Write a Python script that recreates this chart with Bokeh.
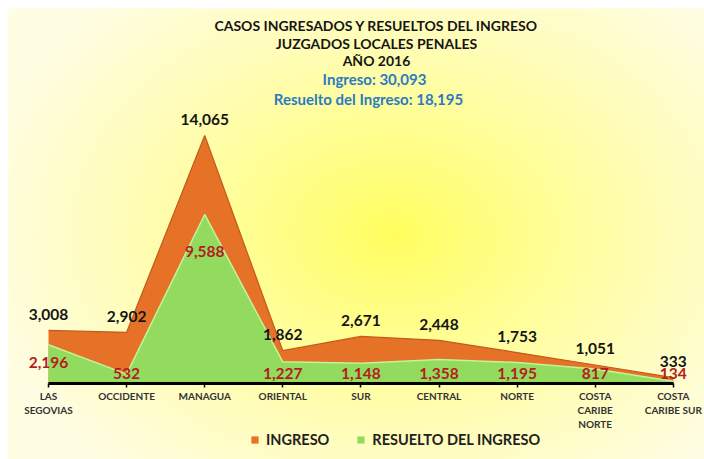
import numpy as np
from bokeh.plotting import figure
from bokeh.models import (ColumnDataSource, Range1d, FixedTicker, LinearAxis,
                          Legend, LegendItem)
from bokeh.core.properties import value
from bokeh.embed import file_html
from bokeh.resources import INLINE

# ---------------- data ----------------
regions = ["LAS\nSEGOVIAS", "OCCIDENTE", "MANAGUA", "ORIENTAL", "SUR",
           "CENTRAL", "NORTE", "COSTA\nCARIBE\nNORTE", "COSTA\nCARIBE SUR"]
ingreso = [3008, 2902, 14065, 1862, 2671, 2448, 1753, 1051, 333]
resuelto = [2196, 532, 9588, 1227, 1148, 1358, 1195, 817, 134]
title_lines = ["CASOS INGRESADOS Y RESUELTOS DEL INGRESO",
               "JUZGADOS LOCALES PENALES", "AÑO 2016"]
total_lines = ["Ingreso: 30,093", "Resuelto del Ingreso: 18,195"]
series_names = ["INGRESO", "RESUELTO DEL INGRESO"]

# ---------------- layout helpers ----------------
FIG_W, FIG_H = 704, 459
MARGIN = 8
W, H = FIG_W - MARGIN, FIG_H - MARGIN   # frame size
BASE_PX = 375          # baseline, px from top of frame
U = 56.72              # data units per pixel (vertical)
X0_PX, STEP_PX = 40.0, 78.1

x_start = -X0_PX / STEP_PX
x_end = x_start + W / STEP_PX
y_end = BASE_PX * U
y_start = -(H - BASE_PX) * U


def px_y(top_px):
    return (BASE_PX - top_px) * U


def px_x(left_px):
    return x_start + left_px / STEP_PX


FONT = value("Lato")
ORANGE = "#e57226"
GREEN = "#93db5f"

p = figure(width=FIG_W, height=FIG_H, x_range=Range1d(x_start, x_end),
           y_range=Range1d(y_start, y_end), output_backend="svg",
           toolbar_location=None, x_axis_location=None, y_axis_location=None,
           min_border_left=MARGIN, min_border_top=MARGIN,
           min_border_right=0, min_border_bottom=0,
           outline_line_color=None)
p.grid.visible = False
p.background_fill_color = "#fffde0"
p.border_fill_color = "#ffffff"

# background glow (decoration)
ny, nx = 226, 348
jj, ii = np.mgrid[0:ny, 0:nx]
pxx = (ii + 0.5) * W / nx
pyy = H - (jj + 0.5) * H / ny
r = np.sqrt(((pxx - 385) / 420.0) ** 2 + ((pyy - 225) / 310.0) ** 2)
t = np.clip(r, 0, 1) ** 0.85
c0 = np.array([255, 255, 92])
c1 = np.array([255, 253, 226])
rgb = c0[None, None, :] + (c1 - c0)[None, None, :] * t[..., None]
img = np.zeros((ny, nx, 4), dtype=np.uint8)
img[..., :3] = rgb.astype(np.uint8)
img[..., 3] = 255
p.image_rgba(image=[img.view(np.uint32).reshape(ny, nx)], x=x_start, y=y_start,
             dw=x_end - x_start, dh=y_end - y_start)

xs = list(range(len(regions)))
res_label_y = []
for v in resuelto:
    h_px = v / U
    res_label_y.append(max(v - (12 + 0.15 * h_px) * U, 10 * U))

src = ColumnDataSource(dict(
    x=xs, ing=ingreso, res=resuelto,
    ing_lbl=[f"{v:,}" for v in ingreso],
    res_lbl=[f"{v:,}" for v in resuelto],
    res_y=res_label_y,
))

r_ing = p.varea(x="x", y1=0, y2="ing", source=src, fill_color=ORANGE)
p.line(x="x", y="ing", source=src, line_color="#c45a1a", line_width=1.2)
r_res = p.varea(x="x", y1=0, y2="res", source=src, fill_color=GREEN)
p.line(x="x", y="res", source=src, line_color="#c4f39a", line_width=1.5)

p.text(x="x", y="ing", text="ing_lbl", source=src, y_offset=-16,
       text_align="center", text_baseline="middle", text_font=FONT,
       text_font_style="bold", text_font_size="15.5px", text_color="#151515")
p.text(x="x", y="res_y", text="res_lbl", source=src,
       text_align="center", text_baseline="middle", text_font=FONT,
       text_font_style="bold", text_font_size="15.5px", text_color="#b3201c")

# titles
for txt, ty in zip(title_lines, [17, 35, 52]):
    p.text(x=[px_x(368)], y=[px_y(ty)], text=[txt], text_align="center",
           text_baseline="middle", text_font=FONT, text_font_style="bold",
           text_font_size="14px", text_color="#151515")
for txt, tx, ty in zip(total_lines, [366, 360], [70, 90]):
    p.text(x=[px_x(tx)], y=[px_y(ty)], text=[txt], text_align="center",
           text_baseline="middle", text_font=FONT, text_font_style="bold",
           text_font_size="15px", text_color="#2b7bc0")

# x axis at zero
ax = LinearAxis(fixed_location=0, bounds=(0, len(regions) - 1),
                ticker=FixedTicker(ticks=xs),
                major_label_overrides={i: lab for i, lab in enumerate(regions)})
ax.axis_line_color = "black"
ax.axis_line_width = 3
ax.major_tick_line_color = "black"
ax.major_tick_line_width = 1.5
ax.major_tick_out = 4
ax.major_tick_in = 0
ax.minor_tick_line_color = None
ax.major_label_text_font = "Lato"
ax.major_label_text_font_style = "bold"
ax.major_label_text_font_size = "10px"
ax.major_label_text_color = "#333333"
ax.major_label_standoff = 2
p.add_layout(ax, "below")

legend = Legend(items=[LegendItem(label=series_names[0], renderers=[r_ing]),
                       LegendItem(label=series_names[1], renderers=[r_res])],
                orientation="horizontal", location=(242, 11),
                glyph_width=9, glyph_height=9, label_height=14,
                label_text_font="Lato", label_text_font_style="bold",
                label_text_font_size="14.5px", label_text_color="#222222",
                label_standoff=7, spacing=27, padding=0, margin=0,
                background_fill_alpha=0, border_line_color=None)
p.add_layout(legend)

open("out.html", "w").write(file_html(p, INLINE))
